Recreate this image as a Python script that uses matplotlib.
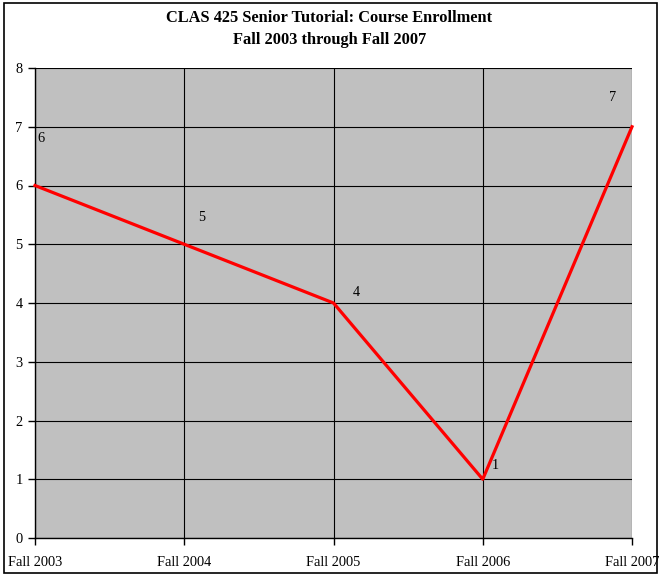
import matplotlib
matplotlib.use("Agg")
import matplotlib.pyplot as plt
from matplotlib.patches import Rectangle

categories = ["Fall 2003", "Fall 2004", "Fall 2005", "Fall 2006", "Fall 2007"]
enrollment = [6, 5, 4, 1, 7]
y_ticks = [0, 1, 2, 3, 4, 5, 6, 7, 8]
title_lines = ["CLAS 425 Senior Tutorial: Course Enrollment", "Fall 2003 through Fall 2007"]

# label offsets in pixels (style only)
label_offsets = [(6, 47), (17, 27), (23, 10), (13, 14), (-19, 29)]

plt.rcParams['font.family'] = ['Liberation Serif', 'DejaVu Serif']

fig = plt.figure(figsize=(6.59, 5.76), dpi=100)
ax = fig.add_axes([35/659, 1-538/576, (632-35)/659, (538-68)/576])

x = list(range(len(categories)))
ax.set_facecolor("#C0C0C0")
ax.plot(x, enrollment, color="#FF0000", linewidth=2.3, zorder=3, clip_on=False)

for xi, v, (dx, dy) in zip(x, enrollment, label_offsets):
    ax.annotate(str(v), (xi, v), xytext=(dx, dy), textcoords="offset pixels",
                ha="center", va="center", fontsize=10.3, color="black", zorder=4)

ax.set_xlim(0, len(categories) - 1)
ax.set_ylim(0, 8)
ax.set_yticks(y_ticks)
ax.set_xticks(x)
ax.set_xticklabels(categories)
ax.grid(True, color="black", linewidth=0.8, zorder=1)
ax.set_axisbelow(True)
for s in ["top", "right"]:
    ax.spines[s].set_visible(False)
ax.spines["left"].set_linewidth(1.0)
ax.spines["bottom"].set_linewidth(1.0)
ax.tick_params(axis="both", direction="out", length=5, width=1, labelsize=10.4, pad=8)
ax.tick_params(axis="y", pad=4)

fig.text(0.5, 1-18/576, title_lines[0], ha="center", va="center",
         fontsize=11.8, fontweight="bold")
fig.text(0.5, 1-40/576, title_lines[1], ha="center", va="center",
         fontsize=11.8, fontweight="bold")

fig.patches.append(Rectangle((4/659, 3/576), 653/659, 570/576, transform=fig.transFigure,
                             fill=False, edgecolor="black", linewidth=1.2))

fig.savefig("out.png", dpi=100)
